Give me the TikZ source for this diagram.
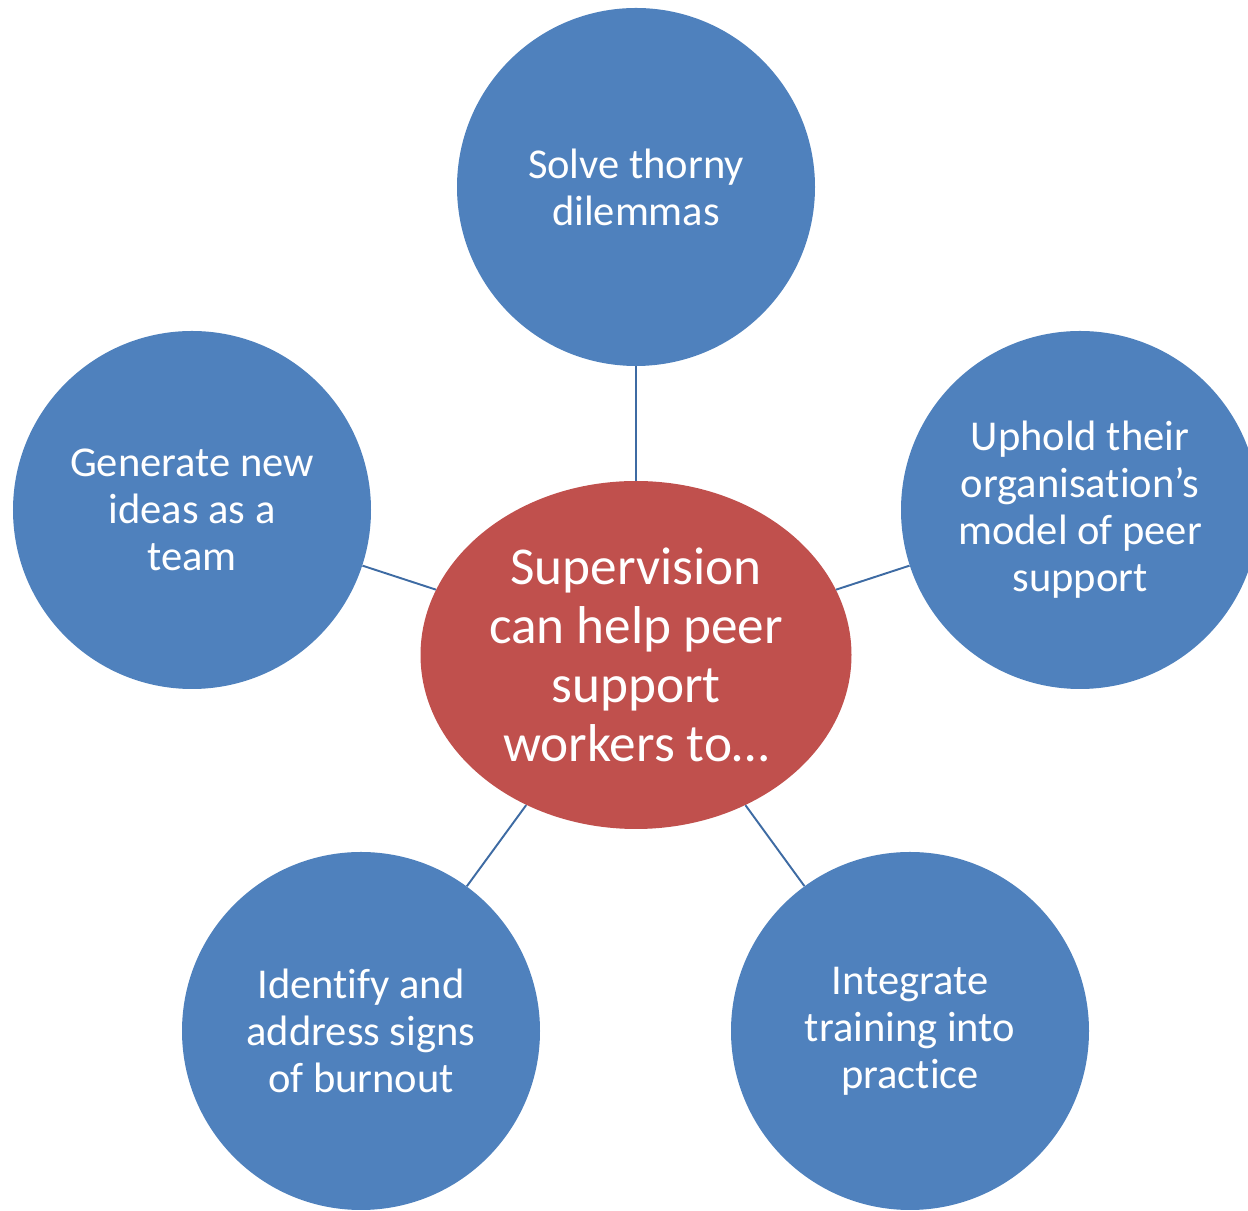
\documentclass[tikz,border=0pt]{standalone}
\usepackage{fontspec}
\setmainfont{Carlito}[Ligatures={NoCommon}]
\usepackage{tikz}
\usetikzlibrary{shapes.geometric}

\definecolor{topicblue}{HTML}{4F81BD}
\definecolor{hubred}{HTML}{C0504D}
\definecolor{spokeblue}{HTML}{3E6BA3}

\begin{document}
\begin{tikzpicture}[
    topic/.style = {circle, fill=topicblue, minimum size=7.16cm, inner sep=0pt,
                    align=center, text=white, font=\fontsize{24.2}{26.8}\selectfont},
    hub/.style   = {ellipse, fill=hubred, minimum width=8.62cm, minimum height=6.96cm,
                    inner sep=0pt, align=center, text=white, font=\fontsize{30.3}{33.6}\selectfont},
    spoke/.style = {draw=spokeblue, line width=1.1pt}
  ]

  % page frame
  \clip (0,0) rectangle (24.96,24.22);

  % centre ellipse
  \node[hub] (hub) at (12.72,11.12) {Supervision\\can help peer\\support\\workers to\ldots};

  % five surrounding circles
  \node[topic] (dilemmas) at (12.72,20.48) {Solve thorny\\dilemmas};
  \node[topic] (ideas)    at (3.84,14.02)  {Generate new\\ideas as a\\team};
  \node[topic] (model)    at (21.60,14.02) {Uphold their\\organisation’s\\model of peer\\support};
  \node[topic] (burnout)  at (7.22,3.60)   {Identify and\\address signs\\of burnout};
  \node[topic] (training) at (18.20,3.60)  {Integrate\\training into\\practice};

  % spokes from the centre
  \foreach \t in {dilemmas, ideas, model, burnout, training}
    \draw[spoke] (hub) -- (\t);

\end{tikzpicture}
\end{document}
